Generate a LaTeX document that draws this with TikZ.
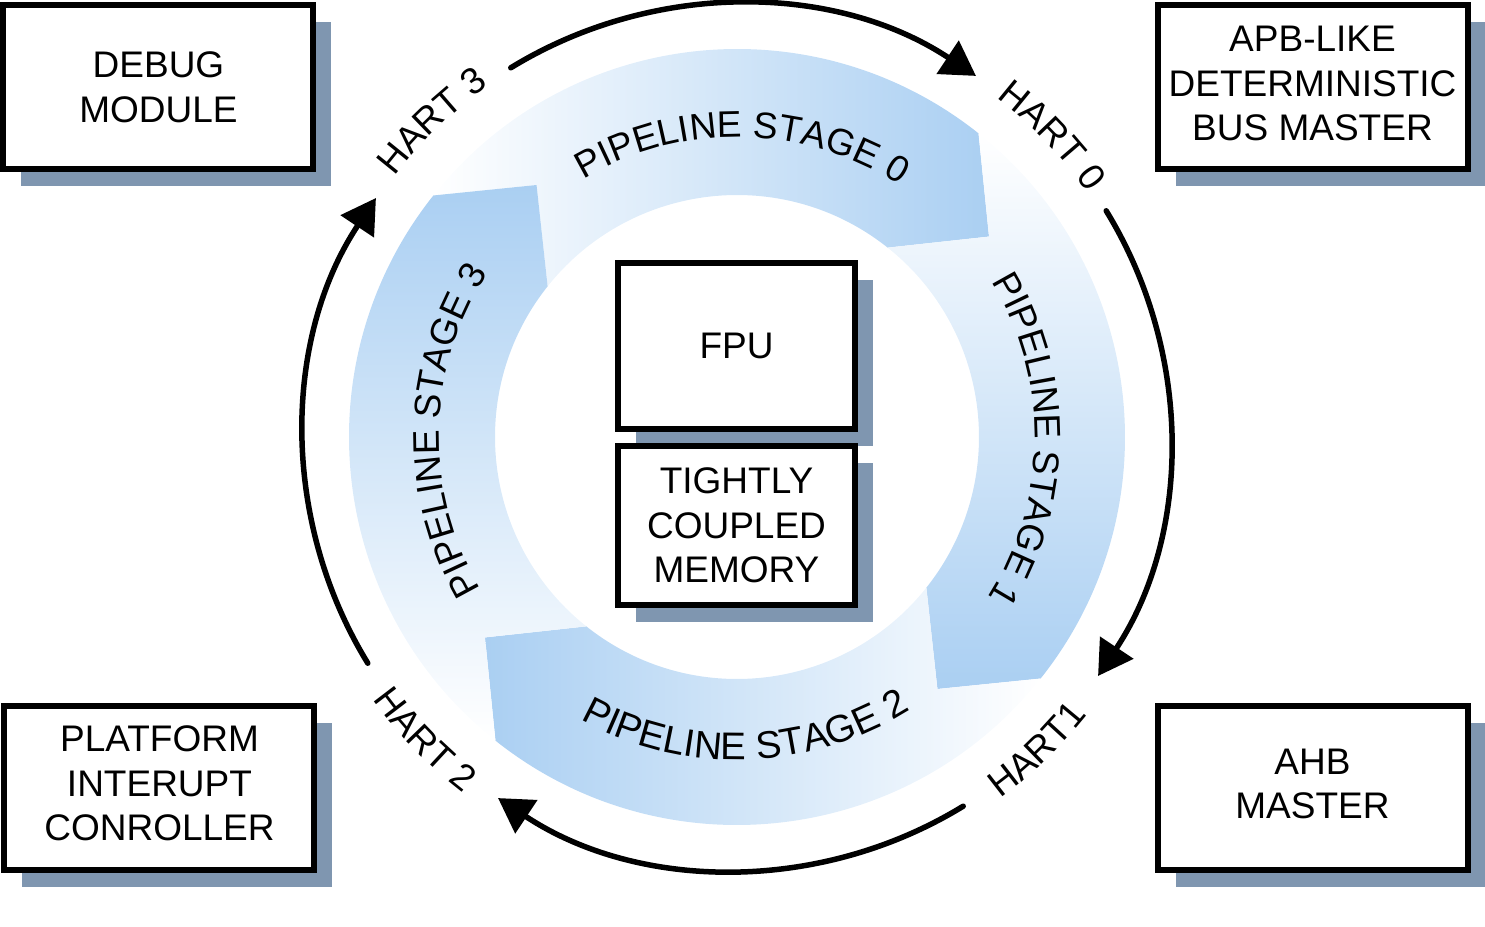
\documentclass[tikz,border=0pt]{standalone}
\usepackage{fontspec}
\setmainfont{Liberation Sans}
\usetikzlibrary{arrows.meta,decorations.text,shadows}
\definecolor{ringblue}{RGB}{170,207,242}
\definecolor{shadowc}{RGB}{127,150,176}
\newcommand{\lblfont}{\fontsize{37}{44.5}\selectfont}
\newcommand{\lblfontb}{\fontsize{38.5}{44.5}\selectfont}
\newcommand{\boxlines}[1]{\begin{tabular}{@{}c@{}}#1\end{tabular}}
% ring segment: #1 = end angle, #2 = shading options
\newcommand{\ringseg}[2]{%
  \path[#2] (#1+90:388) arc[start angle=#1+90, end angle=#1, radius=388]
    -- (#1-13:322) -- (#1:242) arc[start angle=#1, end angle=#1+90, radius=242]
    -- (#1+77:322) -- cycle;}
\begin{document}
\begin{tikzpicture}[x=1pt,y=1pt,
  box/.style={draw=black, line width=6pt, fill=white, minimum width=310pt,
    minimum height=164pt, align=center, font=\lblfont, inner sep=0pt,
    drop shadow={shadow xshift=18pt, shadow yshift=-17pt, fill=shadowc, opacity=1}},
  cyc/.style={line width=5.5pt, line cap=round, -{Triangle[length=34pt,width=39pt]}},
  ringtext/.style={decorate, decoration={text along path, text align=center, text={|\lblfont|#1}}},
  ringtextb/.style={decorate, decoration={text along path, text align=center, text={|\lblfontb|#1}}},
]
\useasboundingbox (-737,-489) rectangle (748,437);

% ring segments
\ringseg{51.5}{left color=white, right color=ringblue}
\ringseg{-38.5}{top color=white, bottom color=ringblue}
\ringseg{-128.5}{left color=ringblue, right color=white}
\ringseg{141.5}{top color=ringblue, bottom color=white}

% stage labels
\path[ringtext={PIPELINE STAGE 0}] (124:300) arc[start angle=124, end angle=54, radius=300];
\path[ringtext={PIPELINE STAGE 1}] (39.5:298) arc[start angle=39.5, end angle=-40.5, radius=298];
\path[ringtextb={PIPELINE STAGE 2}] (-128.3:323) arc[start angle=-128.3, end angle=-48.3, radius=323];
\path[ringtext={PIPELINE STAGE 3}] (218.7:298) arc[start angle=218.7, end angle=138.7, radius=298];

% inner boxes
\node[box, minimum width=237pt, minimum height=166pt] (fpu) at (-0.5,91) {FPU};
\node[box, minimum width=237pt, minimum height=159pt] (tcm) at (-0.5,-88.5) {TIGHTLY\\COUPLED\\MEMORY};

% corner boxes
\node[box] (debug) at (-578.5,349.5) {DEBUG\\MODULE};
\node[box] (apb) at (575.5,349.5) {\boxlines{APB-LIKE\\DETERMINISTIC\\BUS MASTER}};
\node[box] (pic) at (-577.5,-350.5) {\boxlines{PLATFORM\\INTERUPT\\CONROLLER}};
\node[box] (ahb) at (575.5,-350.5) {\boxlines{AHB\\MASTER}};

% hart cycle arrows
\coordinate (a0) at (121.5:433);
\coordinate (a1) at (31.5:433);
\coordinate (a2) at (-58.5:433);
\coordinate (a3) at (211.5:433);
\draw[cyc] (a0) arc[start angle=121.5, end angle=56.5, radius=433];
\draw[cyc] (a1) arc[start angle=31.5, end angle=-33.5, radius=433];
\draw[cyc] (a2) arc[start angle=-58.5, end angle=-123.5, radius=433];
\draw[cyc] (a3) arc[start angle=211.5, end angle=146.5, radius=433];

% hart labels
\path[ringtext={HART 0}] (63.7:427) arc[start angle=63.7, end angle=23.7, radius=427];
\path[ringtext={HART1}] (-66.2:447) arc[start angle=-66.2, end angle=-26.2, radius=447];
\path[ringtext={HART 2}] (-155.9:449) arc[start angle=-155.9, end angle=-115.9, radius=449];
\path[ringtext={HART 3}] (154:430) arc[start angle=154, end angle=114, radius=430];
\end{tikzpicture}
\end{document}
